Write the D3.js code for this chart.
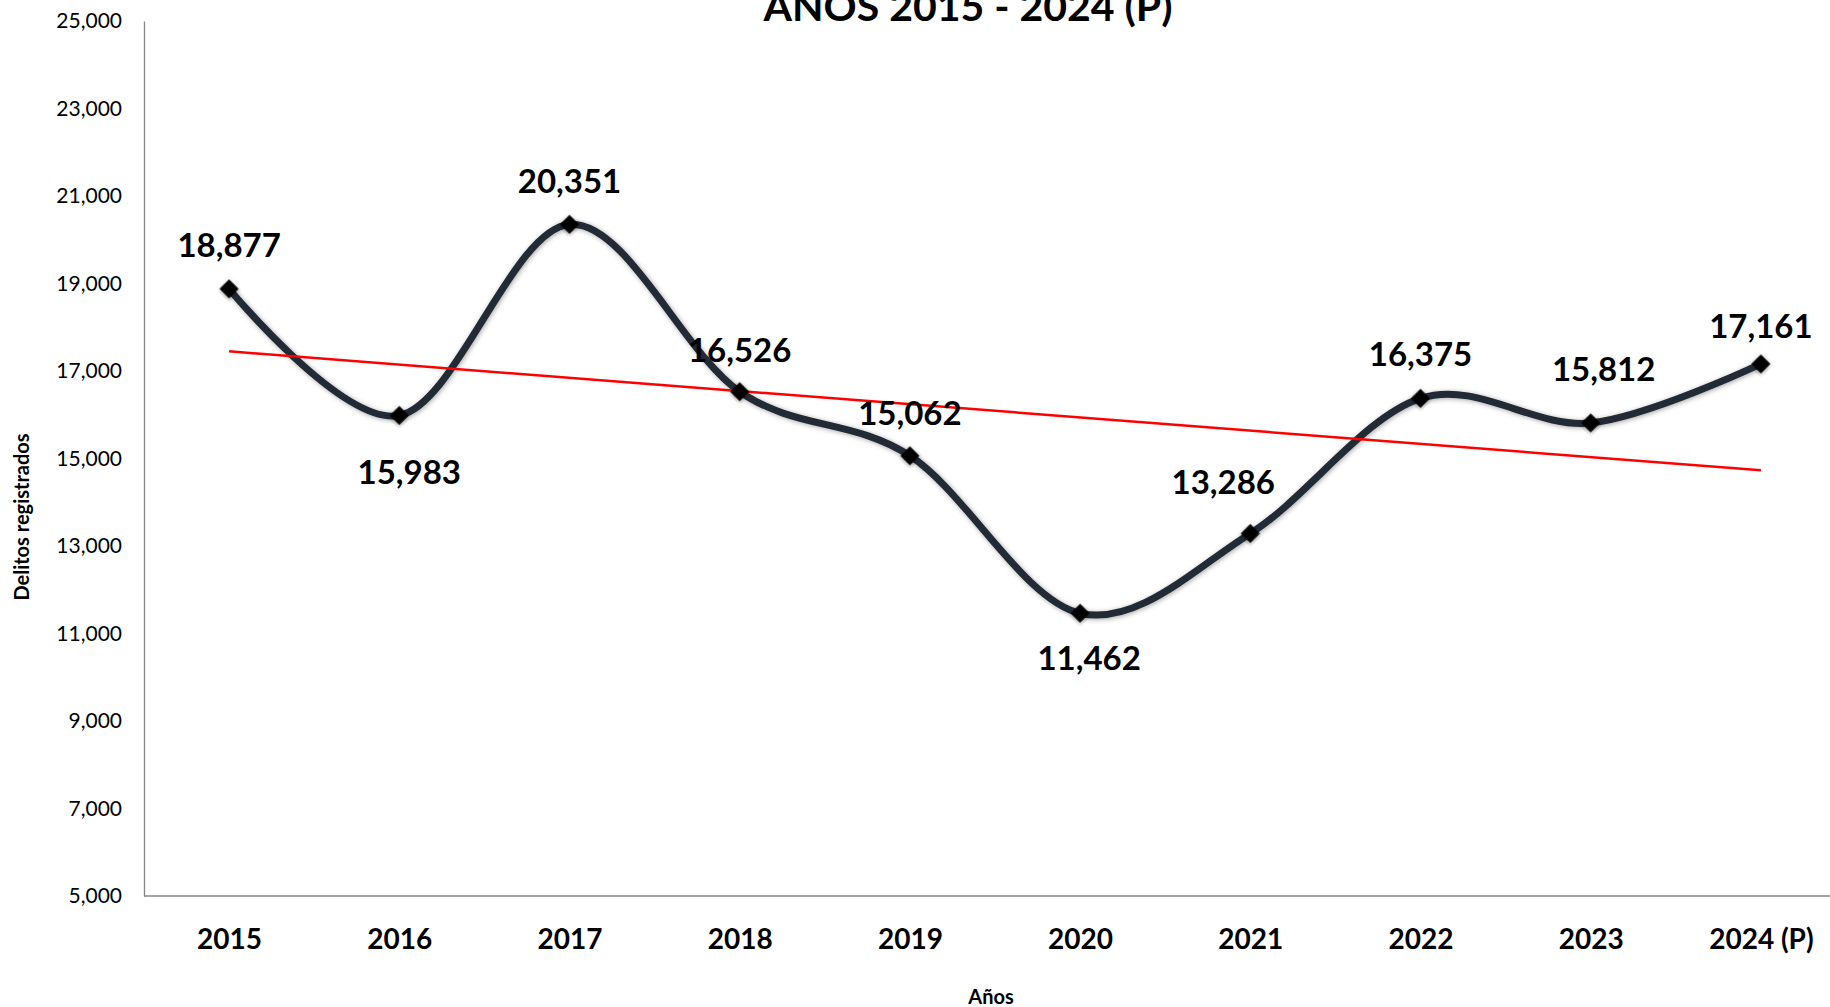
<!DOCTYPE html>
<html>
<head>
<meta charset="utf-8">
<script src="https://cdn.jsdelivr.net/npm/d3@7"></script>
<style>
  html, body { margin: 0; padding: 0; background: #fff; overflow: hidden; }
  svg { display: block; font-family: Lato, 'Open Sans', sans-serif; }
</style>
</head>
<body>
<svg id="chart"></svg>
<script>
const years = ['2015', '2016', '2017', '2018', '2019', '2020', '2021', '2022', '2023', '2024 (P)'];
const delitos = [18877, 15983, 20351, 16526, 15062, 11462, 13286, 16375, 15812, 17161];
const yTicks = [5000, 7000, 9000, 11000, 13000, 15000, 17000, 19000, 21000, 23000, 25000];

// label nudges per point (dx, dy of the baseline from the marker)
const labelNudge = [[0, -32], [10, 69], [0, -31], [0, -30], [0, -31], [9, 57], [-27, -39], [0, -32], [13, -42], [0, -26]];

const width = 1830;
const height = 1007;
const plotLeft = 144;
const plotTop = 21;
const plotBottom = 896;

const svg = d3.select('#chart')
  .attr('width', width)
  .attr('height', height);

const defs = svg.append('defs');
const shadow = defs.append('filter')
  .attr('id', 'soft')
  .attr('x', '-20%')
  .attr('y', '-20%')
  .attr('width', '140%')
  .attr('height', '140%');
shadow.append('feDropShadow')
  .attr('dx', 1)
  .attr('dy', 1)
  .attr('stdDeviation', 2.5)
  .attr('flood-color', '#000')
  .attr('flood-opacity', 0.35);

const x = d3.scalePoint()
  .domain(years)
  .range([plotLeft, 1846])
  .padding(0.5);

const y = d3.scaleLinear()
  .domain([5000, 25000])
  .range([plotBottom, plotTop]);

// axes
const yAxis = svg.append('g')
  .attr('transform', `translate(${plotLeft},0)`)
  .call(d3.axisLeft(y).tickValues(yTicks).tickSize(0).tickPadding(22).tickFormat(d3.format(',')));
yAxis.select('.domain').attr('stroke', '#868686').attr('stroke-width', 1.3);
yAxis.selectAll('text')
  .attr('font-family', 'Lato, sans-serif')
  .attr('font-size', 21)
  .attr('fill', '#000');

const xAxis = svg.append('g')
  .attr('transform', `translate(0,${plotBottom})`)
  .call(d3.axisBottom(x).tickSize(0).tickPadding(33));
xAxis.select('.domain')
  .attr('d', `M${plotLeft},0H${width}`)
  .attr('stroke', '#868686')
  .attr('stroke-width', 1.3);
xAxis.selectAll('text')
  .attr('font-family', 'Lato, sans-serif')
  .attr('font-size', 28)
  .attr('font-weight', 700)
  .attr('fill', '#000');

// smoothed series
const line = d3.line()
  .x((d, i) => x(years[i]))
  .y(d => y(d))
  .curve(d3.curveCardinal.tension(0));

svg.append('path')
  .datum(delitos)
  .attr('d', line)
  .attr('fill', 'none')
  .attr('stroke', '#242a35')
  .attr('stroke-width', 7)
  .attr('filter', 'url(#soft)');

// linear trend
const n = delitos.length;
const mx = d3.mean(delitos, (d, i) => i);
const my = d3.mean(delitos);
const slope = d3.sum(delitos, (d, i) => (i - mx) * (d - my)) / d3.sum(delitos, (d, i) => (i - mx) ** 2);
const trend = [0, n - 1].map(i => ({ i, v: my + slope * (i - mx) }));

svg.append('line')
  .attr('x1', x(years[trend[0].i]))
  .attr('y1', y(trend[0].v))
  .attr('x2', x(years[trend[1].i]))
  .attr('y2', y(trend[1].v))
  .attr('stroke', '#ff0000')
  .attr('stroke-width', 2.5);

// diamond markers
svg.append('g')
  .selectAll('path')
  .data(delitos)
  .join('path')
  .attr('d', d3.symbol(d3.symbolSquare, 180))
  .attr('transform', (d, i) => `translate(${x(years[i])},${y(d)}) rotate(45)`)
  .attr('fill', '#000')
  .attr('filter', 'url(#soft)');

svg.append('g')
  .selectAll('text')
  .data(delitos)
  .join('text')
  .attr('x', (d, i) => x(years[i]) + labelNudge[i][0])
  .attr('y', (d, i) => y(d) + labelNudge[i][1])
  .attr('text-anchor', 'middle')
  .attr('font-size', 33)
  .attr('font-weight', 700)
  .attr('fill', '#000')
  .text(d => d3.format(',')(d));

// titles
svg.append('text')
  .attr('x', 968)
  .attr('y', 21)
  .attr('text-anchor', 'middle')
  .attr('font-size', 41)
  .attr('font-weight', 700)
  .text('AÑOS 2015 - 2024 (P)');

svg.append('text')
  .attr('x', 991)
  .attr('y', 1004)
  .attr('text-anchor', 'middle')
  .attr('font-size', 20)
  .attr('font-weight', 700)
  .text('Años');

svg.append('text')
  .attr('transform', 'translate(29,517) rotate(-90)')
  .attr('text-anchor', 'middle')
  .attr('font-size', 20)
  .attr('font-weight', 700)
  .text('Delitos registrados');
</script>
</body>
</html>
